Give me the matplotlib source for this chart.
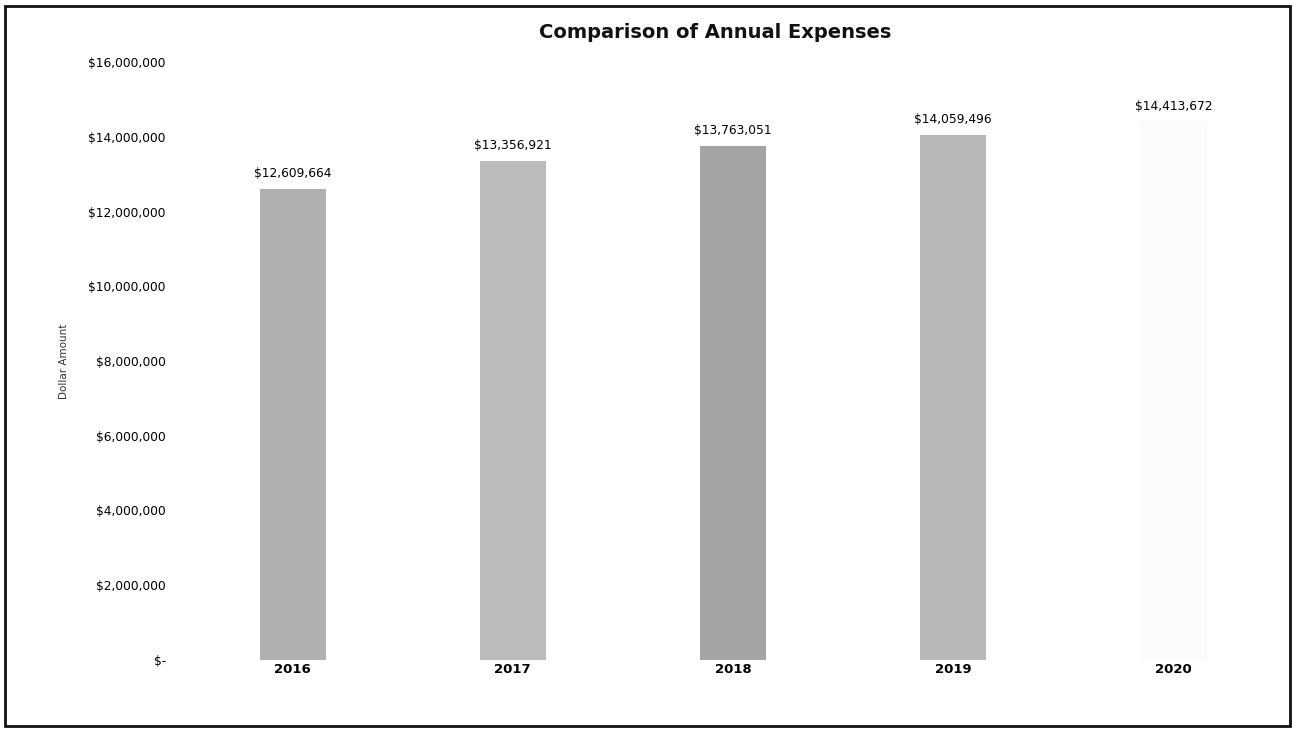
import matplotlib
matplotlib.use("Agg")
import matplotlib.pyplot as plt
from matplotlib.patches import Rectangle
from matplotlib.ticker import FuncFormatter

# Annual expense totals
years = ["2016", "2017", "2018", "2019", "2020"]
expenses = [12609664, 13356921, 13763051, 14059496, 14413672]
bar_colors = ["#b0b0b0", "#bcbcbc", "#a4a4a4", "#b8b8b8", "#fbfbfb"]

plt.rcParams["font.family"] = ["DejaVu Sans"]

fig = plt.figure(figsize=(12.94, 7.30), dpi=100)
ax = fig.add_axes([0.141, 0.096, 0.851, 0.819])

x = range(len(years))
ax.bar(x, expenses, width=0.3, color=bar_colors, edgecolor="none")

for xi, v in zip(x, expenses):
    ax.annotate(f"${v:,.0f}", (xi, v), xytext=(0, 6), textcoords="offset points",
                ha="center", va="bottom", fontsize=8.8, color="#000000")

ax.set_xlim(-0.5, len(years) - 0.5)
ax.set_ylim(0, 16_000_000)
ax.set_yticks(range(0, 16_000_001, 2_000_000))
ax.yaxis.set_major_formatter(
    FuncFormatter(lambda v, _: "$-" if v == 0 else f"${v:,.0f}"))
ax.set_xticks(list(x))
ax.set_xticklabels(years, fontsize=9.5, fontweight="bold")
for lab in ax.get_yticklabels():
    lab.set_fontsize(8.8)
    lab.set_color("#000000")

ax.tick_params(axis="both", length=0)
ax.tick_params(axis="y", pad=12)
ax.tick_params(axis="x", pad=2)
for s in ax.spines.values():
    s.set_visible(False)

ax.set_ylabel("Dollar Amount", fontsize=7.5, color="#333333", labelpad=14)
fig.text(0.553, 0.955, "Comparison of Annual Expenses", ha="center", va="center",
         fontsize=14, fontweight="bold", color="#111111")

# frame around the whole chart
fig.patches.append(Rectangle((0.004, 0.005), 0.993, 0.987, transform=fig.transFigure,
                             fill=False, edgecolor="#111111", linewidth=2))

fig.savefig("out.png", dpi=100, facecolor="white")
